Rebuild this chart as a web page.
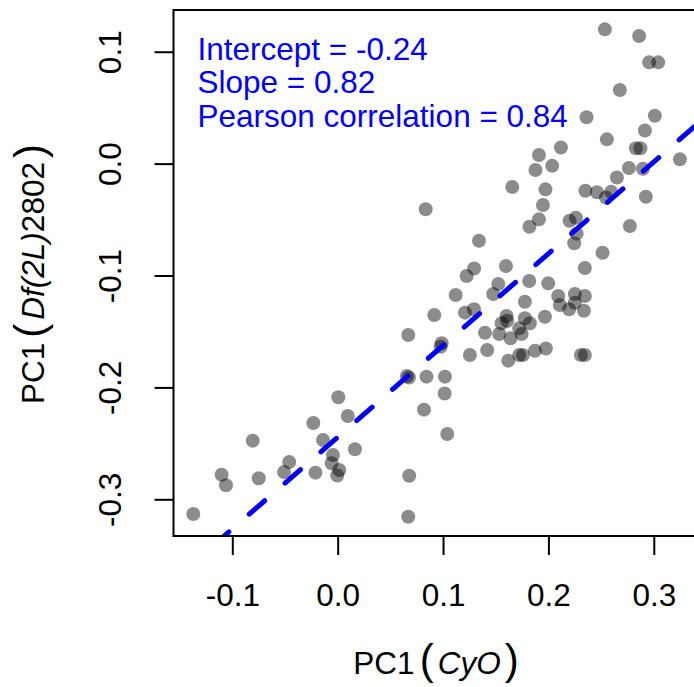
<!DOCTYPE html>
<html>
<head>
<meta charset="utf-8">
<script src="https://cdn.jsdelivr.net/npm/d3@7"></script>
<style>
  body { margin: 0; background: #fff; }
  svg { display: block; font-family: 'Liberation Sans', Arial, sans-serif; }
</style>
</head>
<body>
<div id="wrapper"></div>
<script>
// Data
const xValues = [
  0.2536, 0.2861, 0.2956, 0.3042, 0.2678, 0.2362, 0.3010, 0.2916, 0.2555, 0.2830,
  0.2873, 0.3248, 0.1910, 0.2119, 0.1877, 0.2036, 0.2764, 0.2897, 0.2650, 0.1657,
  0.1972, 0.2351, 0.2460, 0.2595, 0.2546, 0.2925, 0.0835, 0.1948, 0.1910, 0.1820,
  0.2261, 0.2201, 0.2268, 0.2245, 0.2773, 0.1341, 0.2514, 0.1295, 0.1597, 0.2346,
  0.1224, 0.1818, 0.1998, 0.1524, 0.1476, 0.1120, 0.1777, 0.2093, 0.2251, 0.2346,
  0.2109, 0.2197, 0.2251, 0.2337, 0.1293, 0.1208, 0.0917, 0.1603, 0.1777, 0.1967,
  0.1556, 0.1609, 0.1824, 0.1723, 0.1746, 0.1398, 0.1533, 0.1641, 0.0670, 0.0987,
  0.0977, 0.1255, 0.1419, 0.1619, 0.1723, 0.1758, 0.1872, 0.1976, 0.2308, 0.2346,
  0.0657, 0.0676, 0.0843, 0.1018, 0.1015, 0.0819, 0.0006, 0.0096, -0.0231, 0.1040,
  -0.0806, -0.0139, 0.0164, -0.0045, -0.0057, 0.0015, -0.0004, -0.0460, -0.0509, -0.0211,
  -0.1101, -0.1060, -0.0749, 0.0679, 0.0670, -0.1370
];
const yValues = [
  0.1200, 0.1140, 0.0905, 0.0905, 0.0658, 0.0414, 0.0428, 0.0296, 0.0217, 0.0137,
  0.0137, 0.0038, 0.0077, 0.0144, -0.0057, -0.0020, -0.0039, -0.0046, -0.0124, -0.0209,
  -0.0230, -0.0243, -0.0256, -0.0251, -0.0303, -0.0296, -0.0408, -0.0370, -0.0498, -0.0564,
  -0.0484, -0.0511, -0.0626, -0.0712, -0.0558, -0.0689, -0.0796, -0.0937, -0.0915, -0.0933,
  -0.1004, -0.1049, -0.1070, -0.1076, -0.1165, -0.1174, -0.1234, -0.1183, -0.1165, -0.1183,
  -0.1264, -0.1302, -0.1243, -0.1315, -0.1302, -0.1332, -0.1353, -0.1362, -0.1382, -0.1368,
  -0.1427, -0.1404, -0.1427, -0.1472, -0.1523, -0.1511, -0.1523, -0.1561, -0.1532, -0.1606,
  -0.1636, -0.1710, -0.1666, -0.1761, -0.1710, -0.1710, -0.1673, -0.1652, -0.1710, -0.1710,
  -0.1898, -0.1912, -0.1904, -0.1904, -0.2054, -0.2199, -0.2088, -0.2256, -0.2318, -0.2416,
  -0.2476, -0.2470, -0.2553, -0.2604, -0.2678, -0.2738, -0.2787, -0.2667, -0.2756, -0.2762,
  -0.2780, -0.2875, -0.2812, -0.2789, -0.3156, -0.3131
];
const xTicks = [-0.1, 0, 0.1, 0.2, 0.3];
const yTicks = [-0.3, -0.2, -0.1, 0, 0.1];
const fitIntercept = -0.2445;
const fitSlope = 0.82;
const statLabels = ['Intercept = -0.24', 'Slope = 0.82', 'Pearson correlation = 0.84'];

function drawScatter() {
  const data = xValues.map((x, i) => ({ x, y: yValues[i] }));

  let dimensions = {
    width: 694,
    height: 687,
    margin: { top: 10, left: 173.5 },
  };
  dimensions.boundedWidth = 543.5;
  dimensions.boundedHeight = 526;

  const fontSize = 31.5;

  // Scales
  const xScale = d3
    .scaleLinear()
    .domain([-0.1558, 0.36])
    .range([0, dimensions.boundedWidth]);

  const yScale = d3
    .scaleLinear()
    .domain([-0.3328, 0.1373])
    .range([dimensions.boundedHeight, 0]);

  // Canvas
  const svg = d3
    .select('#wrapper')
    .append('svg')
    .attr('width', dimensions.width)
    .attr('height', dimensions.height);

  svg
    .append('defs')
    .append('clipPath')
    .attr('id', 'plot-clip')
    .append('rect')
    .attr('width', dimensions.boundedWidth)
    .attr('height', dimensions.boundedHeight);

  const bounds = svg
    .append('g')
    .attr(
      'transform',
      `translate(${dimensions.margin.left}, ${dimensions.margin.top})`
    );

  // Axes (R style: ticks outside, labels below / rotated on the left)
  const fmt = (d) => d.toFixed(1);

  const xAxis = d3
    .axisBottom(xScale)
    .tickValues(xTicks)
    .tickFormat(fmt)
    .tickSize(19)
    .tickSizeOuter(0);
  bounds
    .append('g')
    .attr('id', 'x-axis')
    .attr('transform', `translate(0, ${dimensions.boundedHeight})`)
    .call(xAxis)
    .call((g) => g.select('.domain').remove())
    .call((g) =>
      g.selectAll('line').attr('stroke', '#000').attr('stroke-width', 2)
    )
    .call((g) =>
      g
        .selectAll('text')
        .attr('y', 70)
        .attr('dy', null)
        .attr('fill', '#000')
        .style('font-size', fontSize + 'px')
        .style('font-family', "'Liberation Sans', Arial, sans-serif")
    );

  const yAxis = d3
    .axisLeft(yScale)
    .tickValues(yTicks)
    .tickFormat(fmt)
    .tickSize(19)
    .tickSizeOuter(0);
  bounds
    .append('g')
    .attr('id', 'y-axis')
    .call(yAxis)
    .call((g) => g.select('.domain').remove())
    .call((g) =>
      g.selectAll('line').attr('stroke', '#000').attr('stroke-width', 2)
    )
    .call((g) =>
      g
        .selectAll('text')
        .attr('x', null)
        .attr('dy', null)
        .attr('text-anchor', 'middle')
        .attr('transform', 'translate(-52.5, 0) rotate(-90)')
        .attr('fill', '#000')
        .style('font-size', fontSize + 'px')
        .style('font-family', "'Liberation Sans', Arial, sans-serif")
    );

  // Points
  const plot = bounds.append('g').attr('clip-path', 'url(#plot-clip)');

  plot
    .selectAll('circle')
    .data(data)
    .join('circle')
    .attr('cx', (d) => xScale(d.x))
    .attr('cy', (d) => yScale(d.y))
    .attr('r', 7)
    .attr('fill', '#000')
    .attr('fill-opacity', 0.45);

  // Fitted line, dashed
  const [x0, x1] = xScale.domain();
  plot
    .append('line')
    .attr('x1', xScale(x0))
    .attr('y1', yScale(fitIntercept + fitSlope * x0))
    .attr('x2', xScale(x1))
    .attr('y2', yScale(fitIntercept + fitSlope * x1))
    .attr('stroke', '#0000FF')
    .attr('stroke-width', 5)
    .attr('stroke-linecap', 'round')
    .attr('stroke-dasharray', '20.5 27')
    .attr('stroke-dashoffset', 42.1);

  // Box
  bounds
    .append('rect')
    .attr('width', dimensions.boundedWidth)
    .attr('height', dimensions.boundedHeight)
    .attr('fill', 'none')
    .attr('stroke', '#000')
    .attr('stroke-width', 2);

  // Stats text
  bounds
    .append('g')
    .selectAll('text')
    .data(statLabels)
    .join('text')
    .attr('x', 24)
    .attr('y', (d, i) => 50 + i * 33.3)
    .attr('fill', '#0000FF')
    .style('font-size', fontSize + 'px')
    .text((d) => d);

  // Axis titles
  const xTitle = svg
    .append('text')
    .attr('x', 436)
    .attr('y', 674)
    .attr('text-anchor', 'middle')
    .style('font-size', fontSize + 'px');
  xTitle.append('tspan').text('PC1');
  xTitle.append('tspan').attr('dx', 5).style('font-size', '42px').text('(');
  xTitle.append('tspan').attr('dx', 4).style('font-style', 'italic').text('CyO');
  xTitle.append('tspan').attr('dx', 4).style('font-size', '42px').text(')');

  const yTitle = svg
    .append('text')
    .attr('transform', 'translate(43.5, 274) rotate(-90)')
    .attr('text-anchor', 'middle')
    .style('font-size', fontSize + 'px');
  yTitle.append('tspan').text('PC1');
  yTitle.append('tspan').attr('dx', 5).style('font-size', '42px').text('(');
  yTitle.append('tspan').attr('dx', 4).style('font-style', 'italic').text('Df(2L)');
  yTitle.append('tspan').text('2802');
  yTitle.append('tspan').attr('dx', 4).style('font-size', '42px').text(')');
}
drawScatter();
</script>
</body>
</html>
